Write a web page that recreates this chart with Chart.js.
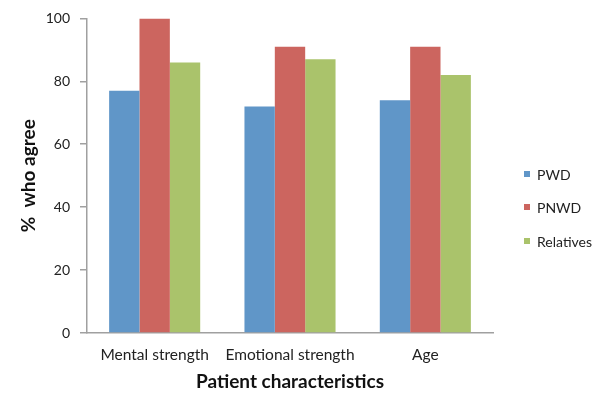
<!DOCTYPE html>
<html>
<head>
<meta charset="utf-8">
<script src="https://cdn.jsdelivr.net/npm/chart.js@4/dist/chart.umd.min.js"></script>
<style>
  html, body { margin: 0; padding: 0; background: #ffffff; }
  #wrap { width: 614px; height: 394px; }
</style>
</head>
<body>
<div id="wrap"><canvas id="c" width="614" height="394"></canvas></div>
<script>
// Categories and survey results (% who agree)
const categories = ['Mental strength', 'Emotional strength', 'Age'];
const pwd = [77, 72, 74];
const pnwd = [100, 91, 91];
const relatives = [86, 87, 82];
const seriesNames = ['PWD', 'PNWD', 'Relatives'];
const yTicks = [0, 20, 40, 60, 80, 100];

const colors = ['#6096C8', '#CC655F', '#AAC36B'];
const FONT = 'Lato, "Liberation Sans", sans-serif';

// Vertical legend drawn to the right of the plot
const sideLegend = {
  id: 'sideLegend',
  afterDraw(chart) {
    const ctx = chart.ctx;
    const rows = [175, 208, 242];
    ctx.save();
    ctx.font = '14px ' + FONT;
    ctx.textBaseline = 'middle';
    chart.data.datasets.forEach((ds, i) => {
      const y = rows[i];
      ctx.fillStyle = ds.backgroundColor;
      ctx.fillRect(524, y - 4, 6, 6);
      ctx.fillStyle = '#222222';
      ctx.fillText(ds.label, 537, y);
    });
    ctx.restore();
  }
};

new Chart(document.getElementById('c'), {
  type: 'bar',
  data: {
    labels: categories,
    datasets: [
      { label: seriesNames[0], data: pwd, backgroundColor: colors[0] },
      { label: seriesNames[1], data: pnwd, backgroundColor: colors[1] },
      { label: seriesNames[2], data: relatives, backgroundColor: colors[2] }
    ]
  },
  options: {
    responsive: false,
    animation: false,
    devicePixelRatio: 1,
    layout: { padding: { left: 0, right: 121, top: 18, bottom: 0 } },
    datasets: { bar: { barPercentage: 1.0, categoryPercentage: 0.673 } },
    plugins: {
      legend: { display: false },
      tooltip: { enabled: false }
    },
    scales: {
      x: {
        grid: { display: false },
        border: { display: true, color: '#A0A0A0', width: 1.5 },
        ticks: { font: { family: FONT, size: 15.5 }, color: '#222222', padding: 5, maxRotation: 0, autoSkip: false },
        title: {
          display: true,
          text: 'Patient characteristics',
          font: { family: FONT, size: 19, weight: 'bold' },
          color: '#111111',
          padding: { top: 0, bottom: 1 }
        },
        afterFit(scale) {
          scale.height = 61;
          scale.paddingLeft = 0;
          scale.paddingRight = 0;
        }
      },
      y: {
        min: 0,
        max: 100,
        afterBuildTicks(scale) { scale.ticks = yTicks.map(v => ({ value: v })); },
        grid: { drawOnChartArea: false, drawTicks: true, tickLength: 7, color: '#A0A0A0', lineWidth: 1.5 },
        border: { display: true, color: '#A0A0A0', width: 1.5 },
        ticks: { font: { family: FONT, size: 14 }, color: '#222222', padding: 10 },
        title: {
          display: true,
          text: '%  who agree',
          font: { family: FONT, size: 19, weight: 'bold' },
          color: '#111111',
          padding: { top: 17, bottom: 0 }
        },
        afterFit(scale) { scale.width = 87; }
      }
    }
  },
  plugins: [sideLegend]
});
</script>
</body>
</html>
